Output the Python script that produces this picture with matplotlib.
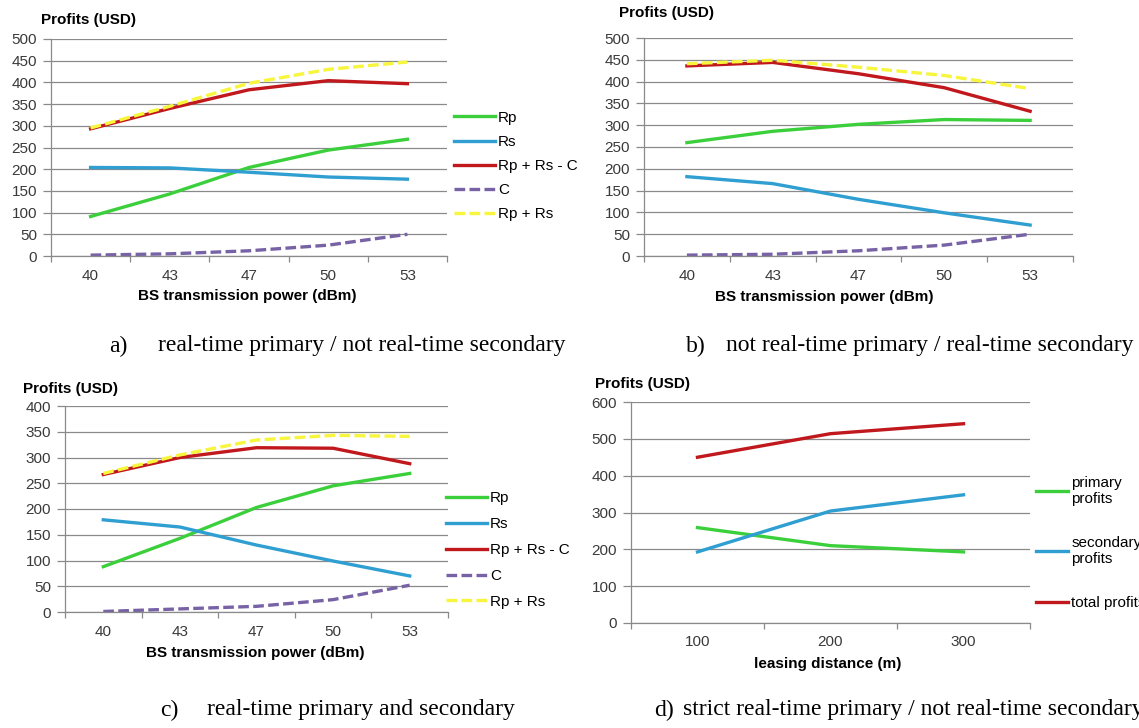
import matplotlib
matplotlib.use("Agg")
import matplotlib.pyplot as plt
from matplotlib.ticker import FixedLocator, MultipleLocator

plt.rcParams['font.family'] = ['Liberation Sans', 'DejaVu Sans']

# ---------------- data ----------------
x_power = ['40', '43', '47', '50', '53']
x_dist = ['100', '200', '300']

a_rp = [91, 143, 204, 244, 269]
a_rs = [204, 203, 193, 182, 177]
a_rprs_c = [293, 340, 383, 404, 397]
a_c = [2, 5, 12, 25, 50]
a_rprs = [295, 345, 398, 430, 447]

b_rp = [260, 286, 302, 313, 311]
b_rs = [182, 166, 130, 99, 71]
b_rprs_c = [436, 444, 418, 386, 332]
b_c = [2, 4, 12, 25, 50]
b_rprs = [441, 449, 433, 414, 384]

c_rp = [88, 143, 203, 245, 269]
c_rs = [179, 165, 130, 99, 70]
c_rprs_c = [267, 300, 319, 318, 288]
c_c = [1, 6, 11, 24, 52]
c_rprs = [269, 305, 334, 343, 341]

d_primary = [259, 210, 193]
d_secondary = [193, 304, 348]
d_total = [450, 514, 541]

series_labels = ['Rp', 'Rs', 'Rp + Rs - C', 'C', 'Rp + Rs']
d_labels = ['primary\nprofits', 'secondary\nprofits', 'total profits']

captions = [
    ('a)', 'real-time primary / not real-time secondary'),
    ('b)', 'not real-time primary / real-time secondary'),
    ('c)', 'real-time primary and secondary'),
    ('d)', 'strict real-time primary / not real-time secondary'),
]

# ---------------- style ----------------
GREEN = '#3ccf3c'
BLUE = '#2f9fd2'
RED = '#c0181d'
PURPLE = '#7862a6'
YELLOW = '#f7f53c'
GRID = '#8a8a8a'
TICKC = '#3a3a3a'
LW = 2.4
FS = 11

W, H = 1139, 728
fig = plt.figure(figsize=(W / 100, H / 100), dpi=100)


def px_axes(x0, y0, x1, y1):
    return fig.add_axes([x0 / W, 1 - y1 / H, (x1 - x0) / W, (y1 - y0) / H])


def style_axes(ax, ncat, ymax, ystep):
    ax.set_xlim(-0.5, ncat - 0.5)
    ax.set_ylim(0, ymax)
    ax.yaxis.set_major_locator(MultipleLocator(ystep))
    ax.grid(axis='y', color=GRID, lw=0.9)
    ax.set_axisbelow(True)
    for s in ['top', 'right']:
        ax.spines[s].set_visible(False)
    for s in ['left', 'bottom']:
        ax.spines[s].set_color(GRID)
        ax.spines[s].set_linewidth(0.9)
    ax.xaxis.set_minor_locator(FixedLocator([i - 0.5 for i in range(ncat + 1)]))
    ax.tick_params(axis='x', which='major', length=0, pad=9, labelsize=FS, labelcolor=TICKC)
    ax.tick_params(axis='x', which='minor', length=4, width=0.9, color=GRID, direction='out')
    ax.tick_params(axis='y', which='major', length=6, width=0.9, color=GRID, pad=4,
                   labelsize=FS, labelcolor=TICKC)


def dash(color):
    return dict(color=color, lw=LW, ls=(0, (3.2, 1.3)), solid_capstyle='butt', dash_capstyle='butt')


def five_series(ax, rp, rs, rprs_c, c, rprs):
    xs = range(len(x_power))
    ax.plot(xs, rp, color=GREEN, lw=LW, label=series_labels[0])
    ax.plot(xs, rs, color=BLUE, lw=LW, label=series_labels[1])
    ax.plot(xs, rprs_c, color=RED, lw=LW, label=series_labels[2])
    ax.plot(xs, c, label=series_labels[3], **dash(PURPLE))
    ax.plot(xs, rprs, label=series_labels[4], **dash(YELLOW))
    ax.set_xticks(list(xs))
    ax.set_xticklabels(x_power)


def legend_at(ax, x_px, yc_px, labelspacing, handlelength):
    ax.legend(loc='center left', bbox_to_anchor=(x_px / W, 1 - yc_px / H),
              bbox_transform=fig.transFigure, frameon=False, fontsize=FS,
              borderpad=0, borderaxespad=0, handlelength=handlelength,
              handletextpad=0.2, labelspacing=labelspacing)


def title_at(x_px, y_px, text):
    fig.text(x_px / W, 1 - y_px / H, text, fontsize=FS, fontweight='bold',
             ha='left', va='center')


def xlabel_at(xc_px, y_px, text):
    fig.text(xc_px / W, 1 - y_px / H, text, fontsize=FS, fontweight='bold',
             ha='center', va='center')


# ---- panel a ----
ax_a = px_axes(51, 39, 447, 256)
style_axes(ax_a, 5, 500, 50)
five_series(ax_a, a_rp, a_rs, a_rprs_c, a_c, a_rprs)
legend_at(ax_a, 454, 166, 0.66, 2.68)
title_at(41, 20, 'Profits (USD)')
xlabel_at(247, 296, 'BS transmission power (dBm)')

# ---- panel b ----
ax_b = px_axes(644, 38, 1073, 256)
style_axes(ax_b, 5, 500, 50)
five_series(ax_b, b_rp, b_rs, b_rprs_c, b_c, b_rprs)
title_at(619, 13, 'Profits (USD)')
xlabel_at(824, 297, 'BS transmission power (dBm)')

# ---- panel c ----
ax_c = px_axes(65, 406, 448, 612)
style_axes(ax_c, 5, 400, 50)
five_series(ax_c, c_rp, c_rs, c_rprs_c, c_c, c_rprs)
legend_at(ax_c, 446, 550, 0.78, 2.68)
title_at(23, 389, 'Profits (USD)')
xlabel_at(255, 653, 'BS transmission power (dBm)')

# ---- panel d ----
ax_d = px_axes(631, 402, 1030, 623)
style_axes(ax_d, 3, 600, 100)
xd = range(len(x_dist))
ax_d.plot(xd, d_primary, color=GREEN, lw=LW, label=d_labels[0])
ax_d.plot(xd, d_secondary, color=BLUE, lw=LW, label=d_labels[1])
ax_d.plot(xd, d_total, color=RED, lw=LW, label=d_labels[2])
ax_d.set_xticks(list(xd))
ax_d.set_xticklabels(x_dist)
legend_at(ax_d, 1036, 543, 1.96, 2.1)
title_at(595, 384, 'Profits (USD)')
xlabel_at(828, 664, 'leasing distance (m)')

# ---- captions ----
cap_pos = [(109, 158, 346), (686, 726, 346), (160, 207, 710), (654, 683, 710)]
for (lab, txt), (xl, xt, yc) in zip(captions, cap_pos):
    fig.text(xl / W, 1 - yc / H, lab, fontsize=17, family='Liberation Serif',
             ha='left', va='center')
    fig.text(xt / W, 1 - yc / H, txt, fontsize=17, family='Liberation Serif',
             ha='left', va='center')

fig.savefig('out.png', dpi=100)
